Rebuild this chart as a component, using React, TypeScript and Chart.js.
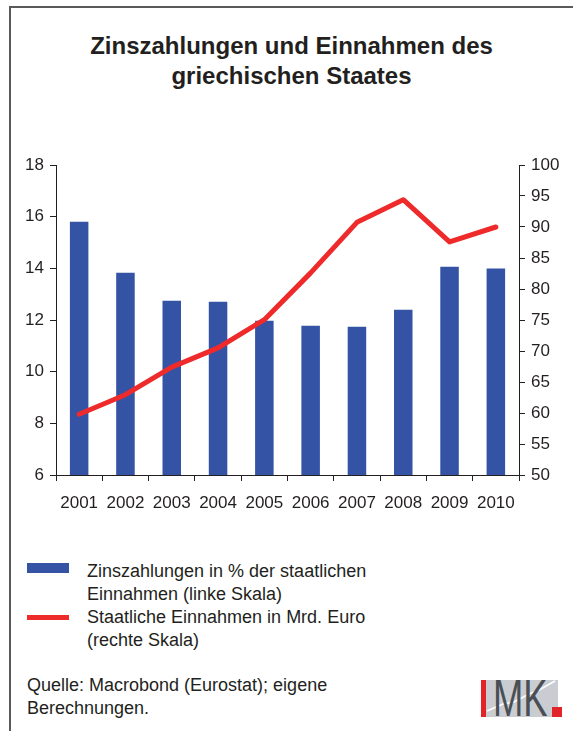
import React, { useEffect, useRef } from "react";
import { Chart, registerables } from "chart.js";

Chart.register(...registerables);

const years = ["2001", "2002", "2003", "2004", "2005", "2006", "2007", "2008", "2009", "2010"];
const interestShare = [15.8, 13.83, 12.75, 12.71, 11.97, 11.78, 11.74, 12.4, 14.06, 13.99];
const revenue = [59.8, 62.95, 67.4, 70.5, 75.05, 82.6, 90.75, 94.4, 87.6, 90.0];

const titleLines = ["Zinszahlungen und Einnahmen des", "griechischen Staates"];
const legendBar = ["Zinszahlungen in % der staatlichen", "Einnahmen (linke Skala)"];
const legendLine = ["Staatliche Einnahmen in Mrd. Euro", "(rechte Skala)"];
const sourceLines = ["Quelle: Macrobond (Eurostat); eigene", "Berechnungen."];

const BLUE = "#3553a5";
const RED = "#ee2a2b";
const INK = "#231f20";
const FONT = "'Liberation Sans', Arial, sans-serif";

export default function App() {
  const canvasRef = useRef<HTMLCanvasElement | null>(null);

  useEffect(() => {
    if (!canvasRef.current) return;
    const tickFont = { family: FONT, size: 17 };
    const chart = new Chart(canvasRef.current, {
      type: "bar",
      data: {
        labels: years,
        datasets: [
          {
            type: "line",
            label: "Staatliche Einnahmen in Mrd. Euro",
            data: revenue,
            yAxisID: "y1",
            borderColor: RED,
            backgroundColor: RED,
            borderWidth: 5,
            pointRadius: 0,
            tension: 0,
            borderCapStyle: "round",
            borderJoinStyle: "round",
            order: 0,
          } as any,
          {
            type: "bar",
            label: "Zinszahlungen in % der staatlichen Einnahmen",
            data: interestShare,
            yAxisID: "y",
            backgroundColor: BLUE,
            barPercentage: 0.4,
            categoryPercentage: 1,
            order: 1,
          },
        ],
      },
      options: {
        responsive: false,
        animation: false,
        devicePixelRatio: 1,
        layout: { padding: { top: 25, left: 0, right: 0, bottom: 0 } },
        plugins: { legend: { display: false }, tooltip: { enabled: false }, title: { display: false } },
        scales: {
          x: {
            offset: true,
            grid: { display: true, drawOnChartArea: false, drawTicks: true, tickLength: 6, color: INK, offset: true },
            border: { display: true, color: INK, width: 1 },
            ticks: { color: INK, font: tickFont, padding: 12, maxRotation: 0, autoSkip: false },
            afterFit: (s: any) => { s.height = 45; },
          },
          y: {
            position: "left",
            min: 6,
            max: 18,
            grid: { drawOnChartArea: false, drawTicks: true, tickLength: 6, color: INK },
            border: { display: true, color: INK, width: 1 },
            ticks: { stepSize: 2, color: INK, font: tickFont, padding: 6 },
            afterFit: (s: any) => { s.width = 56; },
          },
          y1: {
            position: "right",
            min: 50,
            max: 100,
            grid: { drawOnChartArea: false, drawTicks: true, tickLength: 6, color: INK },
            border: { display: true, color: INK, width: 1 },
            ticks: { stepSize: 5, color: INK, font: tickFont, padding: 6 },
            afterFit: (s: any) => { s.width = 54; },
          },
        },
      },
    });
    return () => chart.destroy();
  }, []);

  const textStyle: React.CSSProperties = {
    position: "absolute",
    fontFamily: FONT,
    fontSize: 18,
    color: INK,
    lineHeight: "23px",
    whiteSpace: "nowrap",
    margin: 0,
  };

  return (
    <div style={{ position: "absolute", left: 0, top: 0, width: 573, height: 731, background: "#fff", overflow: "hidden" }}>
      {/* frame */}
      <div style={{ position: "absolute", left: 9, top: 6, width: 564, height: 2, background: "#5a5a5a" }} />
      <div style={{ position: "absolute", left: 9, top: 6, width: 2, height: 725, background: "#5a5a5a" }} />

      {/* title */}
      <div
        style={{
          position: "absolute",
          left: 10,
          width: 563,
          top: 31,
          textAlign: "center",
          fontFamily: FONT,
          fontWeight: "bold",
          fontSize: 24,
          lineHeight: "30px",
          color: INK,
        }}
      >
        {titleLines.map((l) => (
          <div key={l}>{l}</div>
        ))}
      </div>

      <canvas ref={canvasRef} width={573} height={380} style={{ position: "absolute", left: 0, top: 140, width: 573, height: 380 }} />

      {/* legend */}
      <div style={{ position: "absolute", left: 27, top: 563, width: 42, height: 10, background: BLUE }} />
      <div style={{ ...textStyle, left: 87, top: 560 }}>
        {legendBar.map((l) => (
          <div key={l}>{l}</div>
        ))}
      </div>
      <div style={{ position: "absolute", left: 27, top: 615, width: 42, height: 5, background: RED }} />
      <div style={{ ...textStyle, left: 87, top: 606 }}>
        {legendLine.map((l) => (
          <div key={l}>{l}</div>
        ))}
      </div>

      {/* source */}
      <div style={{ ...textStyle, left: 27, top: 674 }}>
        {sourceLines.map((l) => (
          <div key={l}>{l}</div>
        ))}
      </div>

      {/* logo */}
      <div style={{ position: "absolute", left: 481, top: 680, width: 77, height: 37, background: "#c9cdd1", overflow: "hidden" }}>
        <svg width={77} height={37} style={{ position: "absolute", left: 0, top: 0 }}>
          <polyline points="6,31 22,24 33,22 48,14 58,10 74,1" fill="none" stroke="#ffffff" strokeWidth={1.5} />
        </svg>
        <div style={{ position: "absolute", left: 0, top: 0, width: 5, height: 37, background: "#e3232a" }} />
        <div
          style={{
            position: "absolute",
            left: 12,
            top: -8,
            fontFamily: FONT,
            fontSize: 52,
            lineHeight: "52px",
            color: "#4a4f55",
            transform: "scaleX(0.7)",
            transformOrigin: "left top",
            whiteSpace: "nowrap",
          }}
        >
          MK
        </div>
      </div>
      <div style={{ position: "absolute", left: 552, top: 707, width: 10, height: 10, background: "#e3232a" }} />
    </div>
  );
}
